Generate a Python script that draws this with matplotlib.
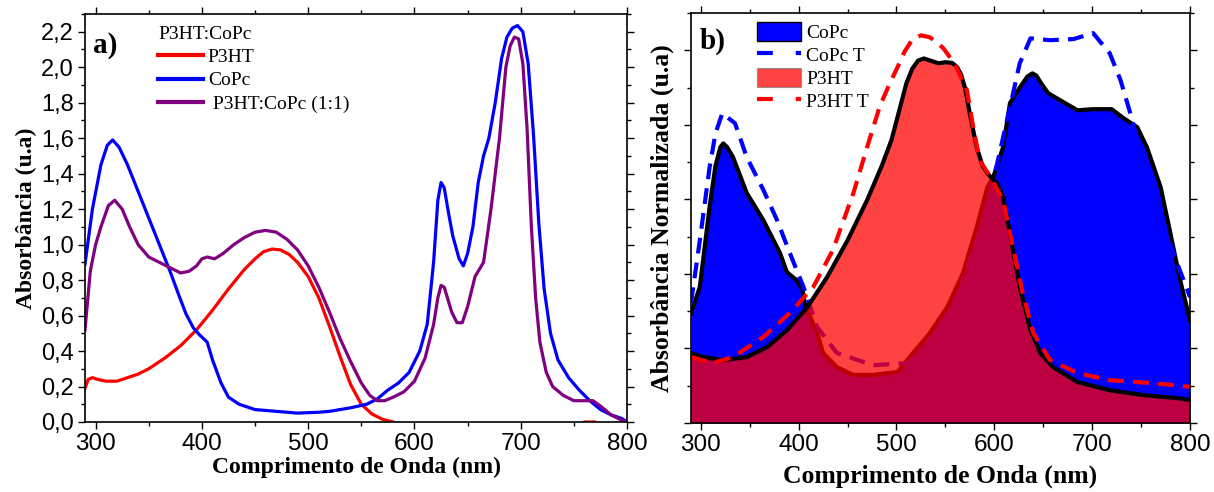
import matplotlib
matplotlib.use("Agg")
import matplotlib.pyplot as plt
from matplotlib.patches import Patch
from matplotlib.lines import Line2D
from matplotlib.ticker import MultipleLocator, FuncFormatter

# ---- painel a) absorbância dos filmes ----
wl_p3ht = [290, 293, 297, 302, 310, 320, 330, 340, 350, 365, 380, 395, 410, 425, 440, 450,
           458, 466, 474, 482, 490, 500, 510, 520, 530, 540, 550, 560, 570, 580, 590, 755,
           760, 770, 775, 800]
abs_p3ht = [0.19, 0.24, 0.25, 0.24, 0.23, 0.23, 0.25, 0.27, 0.30, 0.36, 0.43, 0.52, 0.63, 0.75,
            0.86, 0.92, 0.96, 0.975, 0.97, 0.945, 0.90, 0.82, 0.70, 0.54, 0.37, 0.21, 0.10,
            0.045, 0.015, 0.0, -0.03, -0.03, 0.0, 0.0, -0.03, -0.03]

wl_copc = [290, 297, 305, 311, 316, 322, 330, 340, 350, 360, 370, 378, 385, 392, 398, 405,
           410, 418, 425, 435, 450, 470, 490, 510, 520, 540, 555, 565, 575, 585, 595, 605,
           612, 618, 622, 625, 628, 632, 636, 642, 646, 650, 655, 660, 665, 670, 676, 682,
           687, 692, 697, 702, 707, 712, 717, 722, 728, 735, 745, 755, 765, 775, 785, 795,
           800]
abs_copc = [0.89, 1.20, 1.45, 1.56, 1.59, 1.55, 1.45, 1.30, 1.15, 1.00, 0.85, 0.72, 0.61, 0.53,
            0.49, 0.45, 0.35, 0.22, 0.14, 0.10, 0.07, 0.06, 0.05, 0.055, 0.06, 0.08, 0.10,
            0.13, 0.18, 0.22, 0.28, 0.40, 0.55, 0.90, 1.25, 1.35, 1.32, 1.18, 1.05, 0.92, 0.88,
            0.95, 1.10, 1.35, 1.50, 1.60, 1.80, 2.05, 2.17, 2.22, 2.235, 2.20, 2.02, 1.62,
            1.12, 0.75, 0.50, 0.35, 0.25, 0.18, 0.12, 0.07, 0.04, 0.02, 0.0]

wl_mix = [290, 295, 300, 305, 312, 318, 325, 332, 340, 350, 360, 370, 380, 388, 395, 400,
          405, 412, 420, 430, 440, 450, 460, 470, 480, 490, 500, 510, 520, 530, 540, 550,
          558, 565, 572, 580, 590, 600, 610, 618, 622, 625, 628, 631, 635, 640, 645, 650,
          657, 665, 672, 680, 686, 690, 694, 698, 702, 706, 710, 714, 718, 724, 730, 740,
          750, 760, 768, 775, 785, 795, 800]
abs_mix = [0.52, 0.85, 1.00, 1.10, 1.22, 1.25, 1.20, 1.10, 1.00, 0.93, 0.90, 0.87, 0.84, 0.85,
           0.88, 0.92, 0.93, 0.92, 0.95, 1.00, 1.04, 1.07, 1.08, 1.07, 1.03, 0.97, 0.88, 0.76,
           0.62, 0.47, 0.34, 0.22, 0.15, 0.12, 0.12, 0.14, 0.17, 0.23, 0.36, 0.55, 0.70, 0.77,
           0.76, 0.70, 0.62, 0.56, 0.56, 0.65, 0.82, 0.90, 1.20, 1.60, 2.00, 2.12, 2.17, 2.16,
           2.02, 1.65, 1.10, 0.70, 0.45, 0.28, 0.20, 0.15, 0.12, 0.12, 0.12, 0.09, 0.04, 0.01,
           0.0]

# ---- painel b) absorbância normalizada ----
wl_b_copc = [290, 299, 309, 315, 320, 323, 327, 333, 347, 364, 381, 388, 398, 404, 407, 412,
             419, 425, 439, 456, 476, 501, 517, 534, 552, 568, 582, 593, 599, 609, 616, 626,
             634, 639, 643, 647, 655, 664, 685, 701, 720, 732, 746, 756, 770, 780, 790, 800]
nor_b_copc = [0.295, 0.365, 0.58, 0.69, 0.74, 0.75, 0.74, 0.713, 0.617, 0.544, 0.456, 0.405,
              0.383, 0.357, 0.311, 0.284, 0.241, 0.188, 0.150, 0.129, 0.129, 0.137, 0.188,
              0.241, 0.311, 0.402, 0.525, 0.633, 0.66, 0.74, 0.858, 0.90, 0.93, 0.938, 0.932,
              0.915, 0.885, 0.871, 0.839, 0.842, 0.842, 0.818, 0.794, 0.74, 0.633, 0.509,
              0.383, 0.276]

wl_b_p3ht = [290, 302, 323, 347, 368, 388, 409, 429, 450, 470, 485, 495, 503, 510, 516, 522,
             528, 535, 543, 550, 557, 562, 566, 570, 575, 582, 588, 593, 598, 603, 609, 616,
             626, 637, 647, 660, 685, 718, 752, 787, 800]
nor_b_p3ht = [0.188, 0.177, 0.169, 0.177, 0.204, 0.249, 0.311, 0.391, 0.49, 0.598, 0.69,
              0.76, 0.84, 0.91, 0.95, 0.972, 0.978, 0.972, 0.965, 0.968, 0.966, 0.955, 0.935,
              0.90, 0.83, 0.74, 0.69, 0.67, 0.655, 0.643, 0.606, 0.509, 0.365, 0.249, 0.188,
              0.150, 0.110, 0.088, 0.075, 0.067, 0.062]

wl_b_copc_t = [290, 299, 309, 315, 322, 335, 347, 364, 378, 391, 405, 419, 439, 476, 511, 530,
               560, 590, 605, 616, 626, 637, 657, 681, 701, 718, 729, 739, 750, 765, 783, 800]
nor_b_copc_t = [0.322, 0.49, 0.686, 0.777, 0.831, 0.804, 0.713, 0.625, 0.544, 0.456, 0.365,
                0.257, 0.188, 0.155, 0.161, 0.20, 0.32, 0.55, 0.72, 0.847, 0.965, 1.032, 1.027,
                1.03, 1.046, 0.992, 0.92, 0.831, 0.72, 0.60, 0.456, 0.338]

wl_b_p3ht_t = [290, 312, 333, 364, 391, 415, 435, 456, 470, 483, 493, 501, 508, 516, 525, 534,
               542, 548, 555, 562, 572, 578, 585, 596, 609, 619, 629, 640, 657, 685, 718, 746,
               783, 800]
nor_b_p3ht_t = [0.177, 0.161, 0.177, 0.231, 0.295, 0.365, 0.464, 0.617, 0.74, 0.85, 0.91,
                0.954, 0.995, 1.028, 1.04, 1.035, 1.02, 1.005, 0.98, 0.95, 0.893, 0.80, 0.705,
                0.66, 0.598, 0.472, 0.349, 0.241, 0.169, 0.134, 0.115, 0.11, 0.102, 0.097]

serif = "Liberation Serif"
sans = "Liberation Sans"

fig = plt.figure(figsize=(12.14, 4.92), dpi=100)
ax1 = fig.add_axes([0.070, 0.1423, 0.4465, 0.8292])
ax2 = fig.add_axes([0.5692, 0.1402, 0.4110, 0.8334])

# painel a
ax1.plot(wl_p3ht, abs_p3ht, color="#ff0000", lw=2.3, label="P3HT")
ax1.plot(wl_copc, abs_copc, color="#0000ff", lw=2.3, label="CoPc")
ax1.plot(wl_mix, abs_mix, color="#800080", lw=2.3, label=" P3HT:CoPc (1:1)")
ax1.set_xlim(290, 800)
ax1.set_ylim(0, 2.3)
ax1.xaxis.set_major_locator(MultipleLocator(100))
ax1.xaxis.set_minor_locator(MultipleLocator(50))
ax1.yaxis.set_major_locator(MultipleLocator(0.2))
ax1.yaxis.set_minor_locator(MultipleLocator(0.1))
ax1.yaxis.set_major_formatter(FuncFormatter(lambda v, p: f"{v:.1f}".replace(".", ",")))
ax1.set_xlabel("Comprimento de Onda (nm)", family=serif, weight="bold", fontsize=17, labelpad=1)
ax1.set_ylabel("Absorbância (u.a)", family=serif, weight="bold", fontsize=17, labelpad=3)
ax1.text(0.015, 0.955, "a)", transform=ax1.transAxes, family=serif, weight="bold",
         fontsize=21, va="top")
leg1 = ax1.legend(loc="upper left", bbox_to_anchor=(0.11, 1.005), frameon=False,
                  title="P3HT:CoPc", prop={"family": serif, "size": 14},
                  handlelength=2.3, handletextpad=0.25, labelspacing=0.3, borderpad=0.2)
leg1.get_title().set_family(serif)
leg1.get_title().set_fontsize(14)
leg1._legend_box.align = "left"
for ln in leg1.get_lines():
    ln.set_linewidth(3)

# painel b
ax2.fill_between(wl_b_copc, 0, nor_b_copc, color="#0000ff", lw=0, zorder=1)
ax2.plot(wl_b_copc, nor_b_copc, color="black", lw=3, zorder=2)
ax2.plot(wl_b_copc_t, nor_b_copc_t, color="#0000ff", lw=3, ls=(0, (3.8, 2.2)), zorder=3)
ax2.fill_between(wl_b_p3ht, 0, nor_b_p3ht, color="#ff0000", alpha=0.74, lw=0, zorder=4)
ax2.plot(wl_b_p3ht, nor_b_p3ht, color="black", lw=3, zorder=5)
ax2.plot(wl_b_p3ht_t, nor_b_p3ht_t, color="#ff0000", lw=3, ls=(0, (3.8, 2.2)), zorder=6)
ax2.set_xlim(290, 800)
ax2.set_ylim(0, 1.1)
ax2.xaxis.set_major_locator(MultipleLocator(100))
ax2.xaxis.set_minor_locator(MultipleLocator(50))
ax2.yaxis.set_major_locator(MultipleLocator(0.2))
ax2.yaxis.set_minor_locator(MultipleLocator(0.1))
ax2.set_yticklabels([])
ax2.set_xlabel("Comprimento de Onda (nm)", family=serif, weight="bold", fontsize=18.5,
               labelpad=6)
ax2.set_ylabel("Absorbância Normalizada (u.a)", family=serif, weight="bold", fontsize=18.5,
               labelpad=4)
ax2.text(0.018, 0.965, "b)", transform=ax2.transAxes, family=serif, weight="bold",
         fontsize=21, va="top")
handles = [Patch(facecolor="#0000ff", edgecolor="black", lw=1),
           Line2D([], [], color="#0000ff", lw=3, ls=(0, (3.8, 5.5))),
           Patch(facecolor="#ff0000", alpha=0.74, edgecolor="#808080", lw=0.8),
           Line2D([], [], color="#ff0000", lw=3, ls=(0, (3.8, 5.5)))]
ax2.legend(handles, ["CoPc", "CoPc T", "P3HT", "P3HT T"], loc="upper left",
           bbox_to_anchor=(0.104, 1.012), frameon=False, prop={"family": serif, "size": 14},
           handlelength=2.3, handleheight=1.13, handletextpad=0.25, labelspacing=0.15,
           borderpad=0.2)

for ax in (ax1, ax2):
    ax.tick_params(which="both", direction="out", top=True, right=True, width=1)
    ax.tick_params(which="major", length=5)
    ax.tick_params(which="minor", length=3)
    ax.tick_params(axis="x", labelsize=17.5, pad=3)
    ax.tick_params(axis="y", labelsize=17, pad=3)
    for lab in ax.get_xticklabels() + ax.get_yticklabels():
        lab.set_family(sans)
    for sp in ax.spines.values():
        sp.set_linewidth(1.2)
        sp.set_zorder(10)

fig.savefig("out.png", dpi=100)
